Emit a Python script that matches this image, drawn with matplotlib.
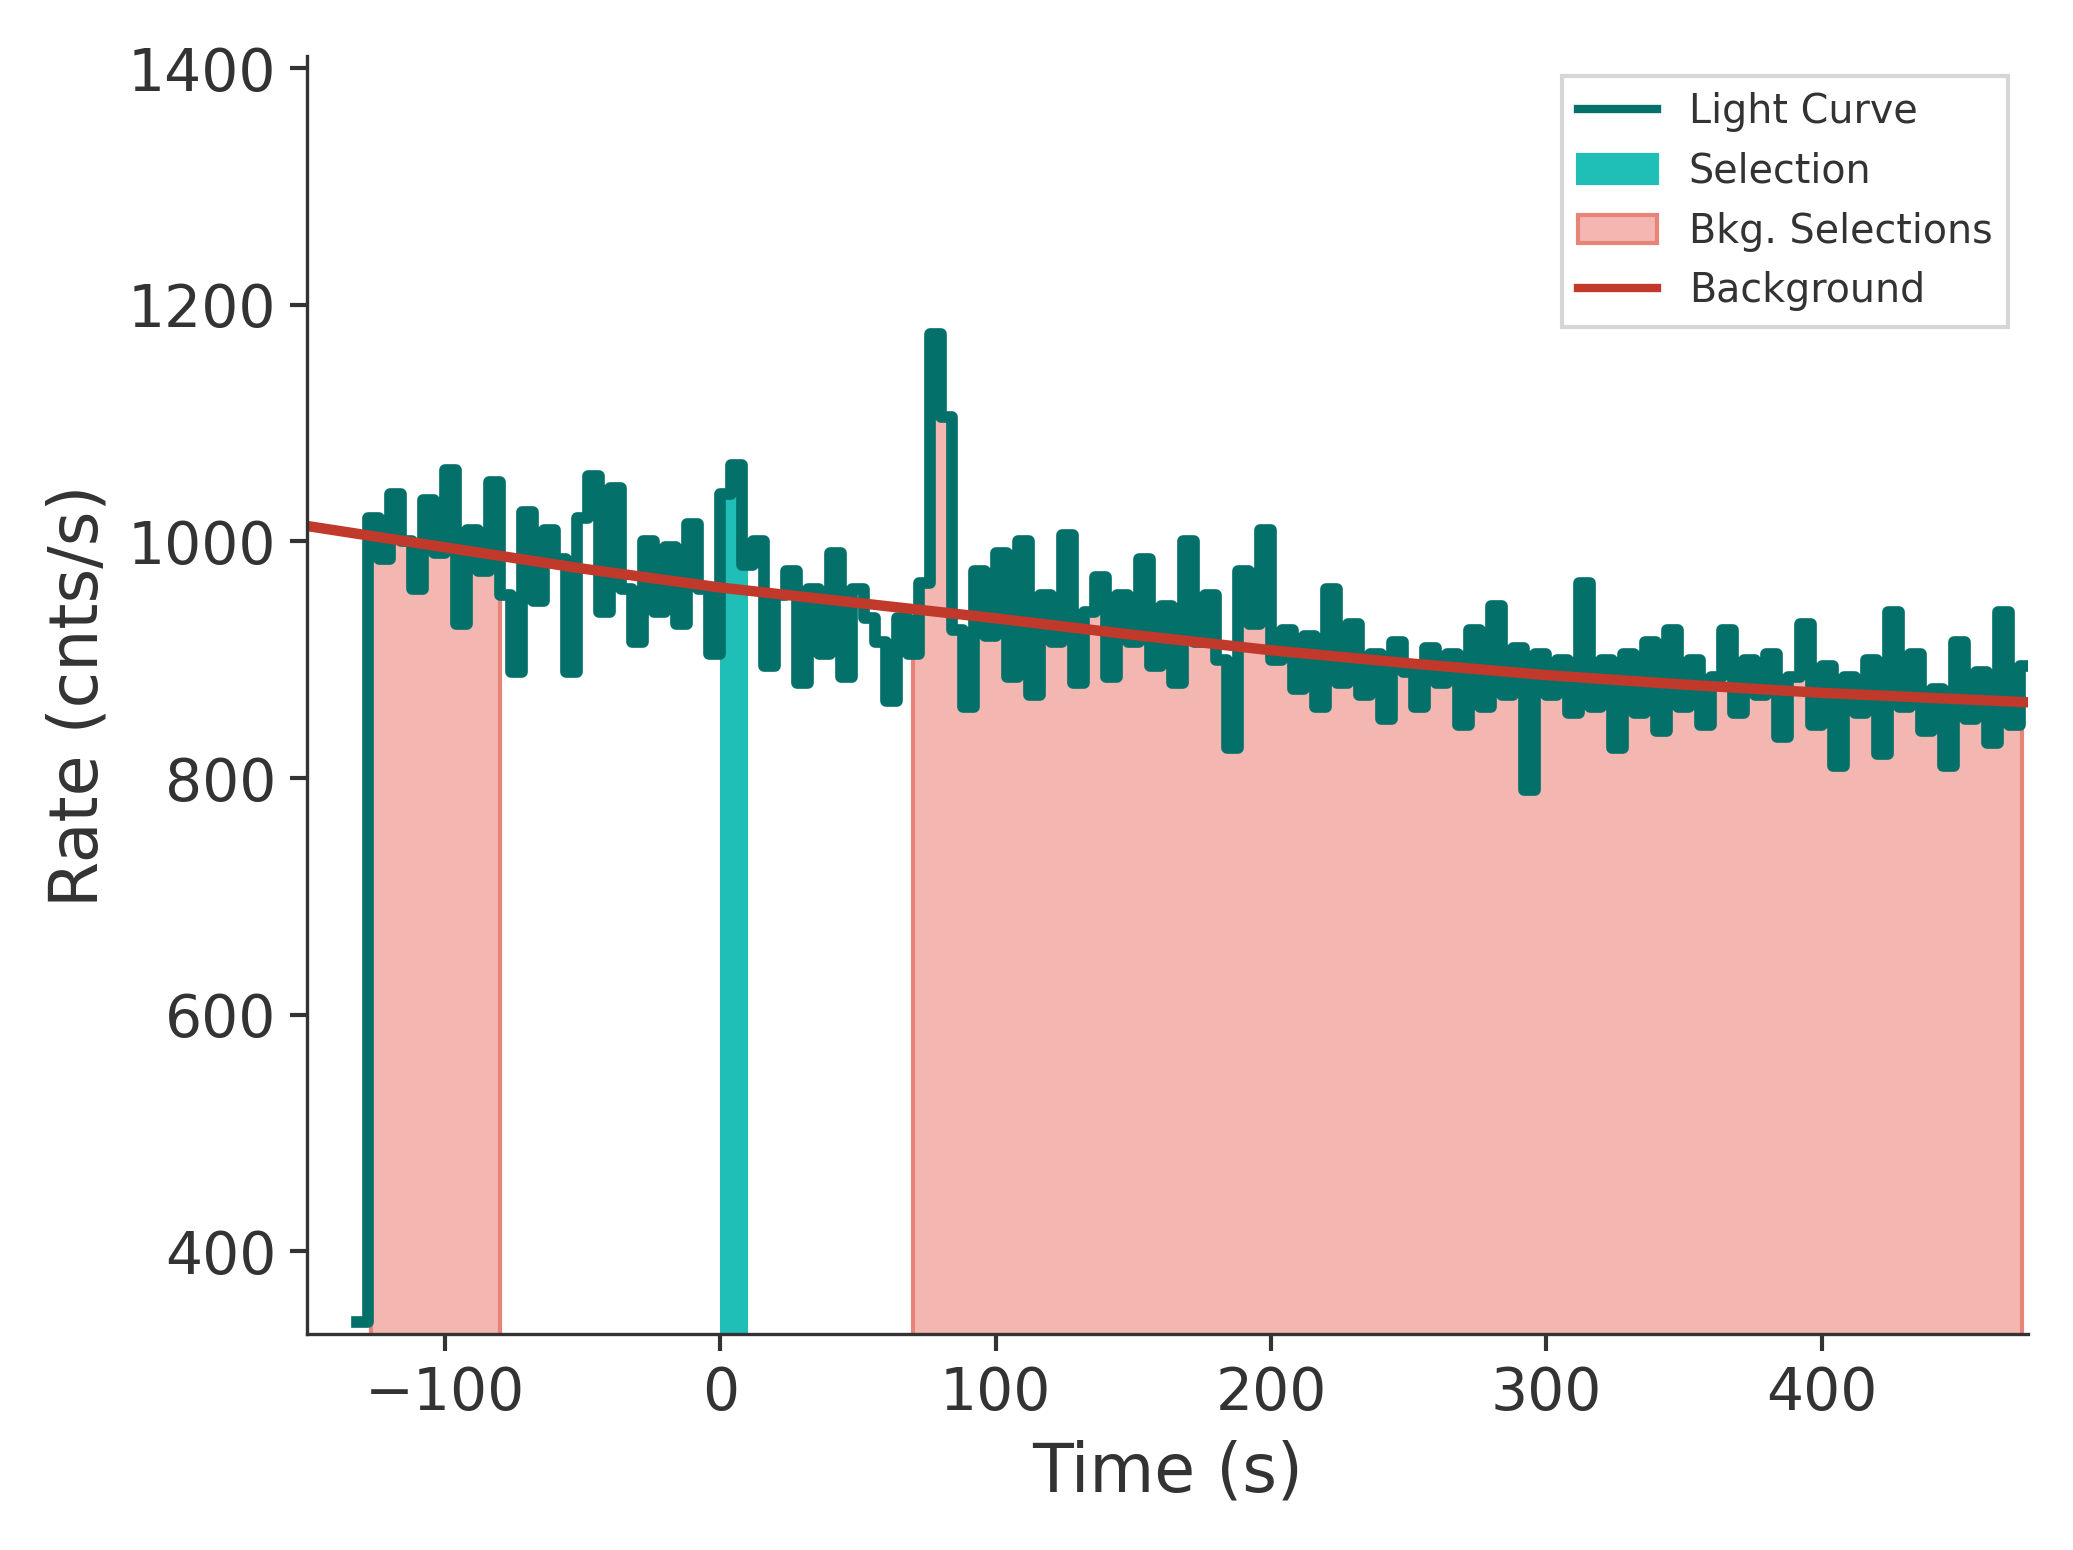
import numpy as np
import matplotlib.pyplot as plt
from matplotlib.patches import Patch
from matplotlib.lines import Line2D

# light curve, 4 s bins starting at -132 s
t0 = -132.0
dt = 4.0
rate = [340, 1020, 985, 1040, 1000, 960, 1035, 990, 1060, 930, 1010, 975, 1050, 955,
        890, 1025, 950, 1010, 985, 890, 1020, 1055, 940, 1045, 960, 915, 1000, 940, 995,
        930, 1015, 960, 905, 1040, 1065, 980, 1000, 895, 955, 975, 880, 960, 905, 990,
        885, 960, 935, 915, 865, 935, 905, 965, 1175, 1105, 925, 860, 975, 920, 990, 885,
        1000, 870, 955, 915, 1005, 880, 940, 970, 885, 955, 915, 985, 895, 945, 880, 1000,
        915, 955, 900, 825, 975, 930, 1010, 900, 925, 875, 920, 860, 960, 880, 930, 870,
        905, 850, 915, 890, 860, 910, 880, 905, 845, 925, 860, 945, 870, 910, 790, 905,
        870, 900, 855, 965, 860, 900, 825, 905, 855, 915, 840, 925, 860, 900, 845, 885,
        925, 855, 900, 870, 905, 835, 885, 930, 845, 895, 810, 885, 855, 900, 820, 940,
        860, 905, 840, 875, 810, 915, 850, 890, 830, 940, 845, 895]

bkg_t = [-150, -100, -50, 0, 50, 100, 150, 200, 250, 300, 350, 400, 475]
bkg_rate = [1013, 995, 977, 961, 948, 935, 921, 908, 897, 887, 879, 872, 864]

selection = (0.0, 10.0)
bkg_intervals = [(-127.0, -80.0), (70.0, 473.0)]

rate = np.array(rate, float)
edges = t0 + dt * np.arange(len(rate) + 1)

def stepped(lo, hi):
    xs, ys = [], []
    for i, r in enumerate(rate):
        a, b = max(edges[i], lo), min(edges[i + 1], hi)
        if a < b:
            xs += [a, b]; ys += [r, r]
    return np.array(xs), np.array(ys)

c_lc = '#04706a'; c_sel = '#1fbfb8'; c_bf = '#f4b6b0'; c_be = '#e8837a'; c_bl = '#c0392b'
txt = '#333333'

plt.rcParams.update({'text.color': txt, 'axes.labelcolor': txt, 'xtick.color': txt, 'ytick.color': txt,
                     'axes.edgecolor': txt})
fig, ax = plt.subplots(figsize=(6.91, 5.167), dpi=300)
for lo, hi in bkg_intervals:
    x, y = stepped(lo, hi)
    ax.fill_between(x, 0, y, color=c_bf, edgecolor=c_be, lw=1)
x, y = stepped(*selection)
ax.fill_between(x, 0, y, color=c_sel, lw=0)
ax.step(edges, np.append(rate, rate[-1]), where='post', color=c_lc, lw=2.8)
ax.plot(bkg_t, bkg_rate, color=c_bl, lw=2.5)

ax.set_xlim(-150, 475)
ax.set_ylim(330, 1410)
ax.set_xticks([-100, 0, 100, 200, 300, 400])
ax.set_yticks([400, 600, 800, 1000, 1200, 1400])
ax.tick_params(labelsize=14, width=1, length=4)
ax.set_xlabel('Time (s)', fontsize=16)
ax.set_ylabel('Rate (cnts/s)', fontsize=16)
for s in ['top', 'right']:
    ax.spines[s].set_visible(False)

handles = [Line2D([], [], color=c_lc, lw=2), Patch(color=c_sel),
           Patch(facecolor=c_bf, edgecolor=c_be), Line2D([], [], color=c_bl, lw=2)]
ax.legend(handles, ['Light Curve', 'Selection', 'Bkg. Selections', 'Background'],
          loc='upper right', fontsize=9.5, fancybox=False)
fig.tight_layout()
fig.savefig('out.png', facecolor='white')
